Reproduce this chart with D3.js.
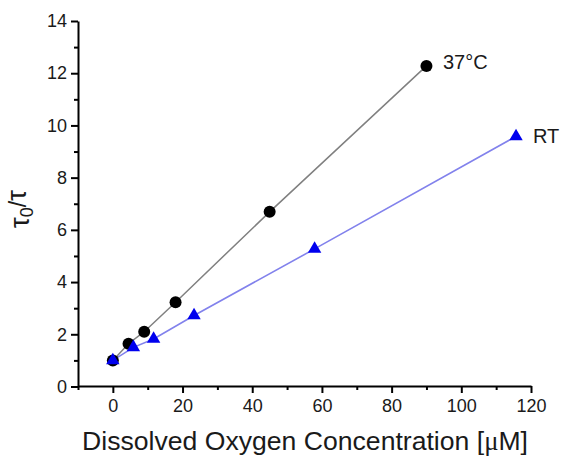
<!DOCTYPE html>
<html><head><meta charset="utf-8">
<script src="https://cdn.jsdelivr.net/npm/d3@7"></script>
<style>body{margin:0;background:#fff}svg{display:block}text{font-family:"Liberation Sans",Arial,sans-serif;fill:#1a1a1a}</style>
</head><body>
<svg id="c" width="563" height="457"></svg>
<script>
const x37 = [0, 4.5, 9, 18, 45, 90];
const y37 = [1.0, 1.64, 2.1, 3.23, 6.69, 12.28];
const xRT = [0, 5.9, 11.7, 23.3, 57.9, 115.7];
const yRT = [1.0, 1.5, 1.82, 2.72, 5.27, 9.58];
const xTicks = [0, 20, 40, 60, 80, 100, 120];
const yTicks = [0, 2, 4, 6, 8, 10, 12, 14];
const seriesNames = ["37°C", "RT"];

const svg = d3.select("#c");
const x = d3.scaleLinear().domain([-10, 120]).range([78, 531]);
const y = d3.scaleLinear().domain([0, 14]).range([386.5, 21]);

const xMinor = d3.range(-10, 121, 10).filter(v => !xTicks.includes(v));
const yMinor = d3.range(1, 14, 2);

const gx = svg.append("g").attr("transform", "translate(0,386)");
gx.call(d3.axisBottom(x).tickValues(xTicks).tickSizeInner(7).tickSizeOuter(0).tickPadding(6).tickFormat(d3.format("d")));
gx.append("g").call(d3.axisBottom(x).tickValues(xMinor).tickSize(4).tickFormat(""));
const gy = svg.append("g").attr("transform", "translate(78,0)");
gy.call(d3.axisLeft(y).tickValues(yTicks).tickSizeInner(7).tickSizeOuter(0).tickPadding(4).tickFormat(d3.format("d")));
gy.append("g").call(d3.axisLeft(y).tickValues(yMinor).tickSize(4).tickFormat(""));
svg.selectAll("g g .domain").remove();
svg.selectAll(".domain").attr("stroke", "#000").attr("stroke-width", 2);
svg.selectAll(".tick line").attr("stroke", "#000").attr("stroke-width", 2);
svg.selectAll(".tick text").attr("font-size", 18);

const line = d3.line().x(d => x(d[0])).y(d => y(d[1]));
const d37 = x37.map((v, i) => [v, y37[i]]);
const dRT = xRT.map((v, i) => [v, yRT[i]]);

svg.append("path").datum(d37).attr("d", line).attr("fill", "none").attr("stroke", "#808080").attr("stroke-width", 1.5);
svg.append("path").datum(dRT).attr("d", line).attr("fill", "none").attr("stroke", "#8282ec").attr("stroke-width", 1.6);

svg.selectAll(".c37").data(d37).enter().append("circle")
  .attr("cx", d => x(d[0])).attr("cy", d => y(d[1])).attr("r", 6).attr("fill", "#000");
const tri = d3.symbol().type(d3.symbolTriangle).size(78);
svg.selectAll(".rt").data(dRT).enter().append("path")
  .attr("d", tri).attr("transform", d => `translate(${x(d[0])},${y(d[1])})`).attr("fill", "#0000ee");

svg.append("text").attr("x", 443).attr("y", 69).attr("font-size", 20).text(seriesNames[0]);
svg.append("text").attr("x", 533).attr("y", 143).attr("font-size", 20).text(seriesNames[1]);

const xl = svg.append("text").attr("x", 305).attr("y", 450).attr("text-anchor", "middle").attr("font-size", 25);
xl.append("tspan").text("Dissolved Oxygen Concentration [");
xl.append("tspan").attr("font-family", "'Liberation Serif', serif").text("μ");
xl.append("tspan").text("M]");
const len = xl.node().getComputedTextLength();
xl.attr("font-size", 25 * 446 / len);

const yl = svg.append("text").attr("transform", "translate(29,209) rotate(-90)").attr("text-anchor", "middle").attr("font-size", 27);
yl.append("tspan").text("τ");
yl.append("tspan").attr("font-size", 18).attr("dy", 4).text("0");
yl.append("tspan").attr("dy", -7).attr("font-size", 23).text("/");
yl.append("tspan").attr("dy", 0).attr("font-size", 27).text("τ");
</script>
</body></html>
